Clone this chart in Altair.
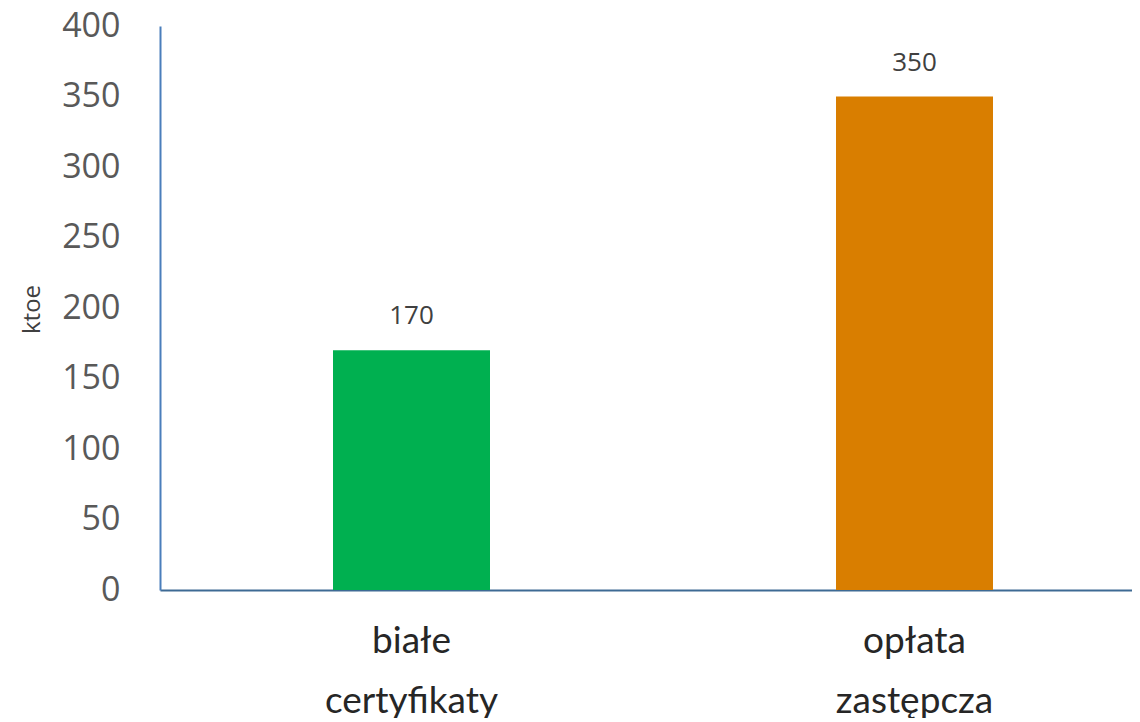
import altair as alt
import pandas as pd

categories = ["białe certyfikaty", "opłata zastępcza"]
values = [170, 350]
colors = ["#00B050", "#D97E00"]

df = pd.DataFrame({"cat": categories, "val": values, "col": colors})

base = alt.Chart(df).encode(
    x=alt.X("cat:N", sort=categories,
            scale=alt.Scale(paddingInner=0, paddingOuter=0, range=[0, 1006]),
            axis=alt.Axis(title=None, labelAngle=0, ticks=False,
                          labelExpr="split(datum.label, ' ')",
                          labelFont="Lato", labelFontSize=37, labelFontWeight="normal",
                          labelColor="#262626", labelLineHeight=60,
                          labelPadding=62, labelBaseline="alphabetic",
                          domainColor="#3E6A94", domainWidth=2)),
    y=alt.Y("val:Q", scale=alt.Scale(domain=[0, 400], nice=False),
            axis=alt.Axis(values=[0, 50, 100, 150, 200, 250, 300, 350, 400],
                          title="ktoe", titleFont="Open Sans", titleFontSize=24,
                          titleFontWeight="normal", titleColor="#404040",
                          titleAngle=-90, titleX=-128, titleY=283,
                          titleAlign="center", titleBaseline="middle",
                          grid=False, ticks=False,
                          labelFont="Open Sans", labelFontSize=34, labelColor="#595959",
                          labelPadding=40, domainColor="#4A7EBB", domainWidth=2)),
)

bars = base.mark_bar(size=157).encode(
    color=alt.Color("col:N", scale=None)
)

text = base.mark_text(dy=-34, baseline="middle", font="Open Sans", fontSize=26,
                      color="#404040").encode(text="val:Q")

chart = (bars + text).properties(
    width=972, height=564,
    autosize=alt.AutoSizeParams(type="none"),
    padding={"left": 152, "top": 18, "right": 0, "bottom": 128},
).configure_view(stroke=None)

chart.save("out.html", embed_options={"renderer": "svg", "actions": False})
